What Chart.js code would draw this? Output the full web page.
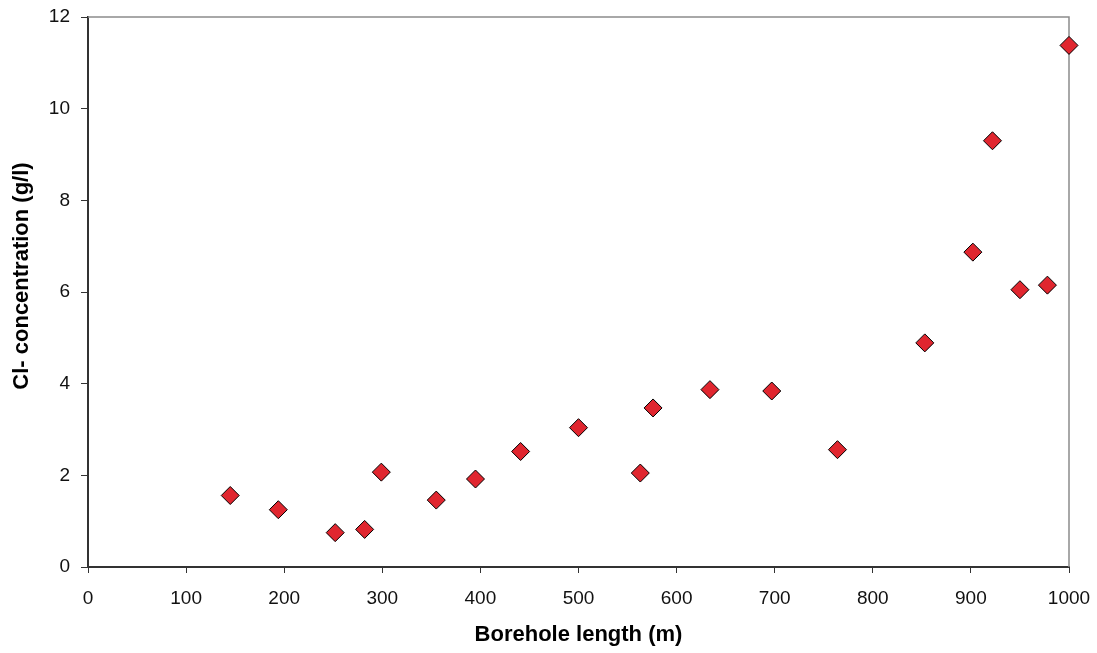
<!DOCTYPE html>
<html>
<head>
<meta charset="utf-8">
<script src="https://cdn.jsdelivr.net/npm/chart.js@4/dist/chart.umd.min.js"></script>
<style>
  html, body { margin: 0; padding: 0; background: #fff; }
  #wrap { width: 1097px; height: 653px; }
</style>
</head>
<body>
<div id="wrap"><canvas id="chart" width="1097" height="653"></canvas></div>
<script>
// borehole length (m) and Cl- concentration (g/l)
const boreholeLength = [145, 194, 252, 282, 299, 355, 395, 441, 500, 563, 576, 634, 697, 764, 853, 902, 922, 950, 978, 1000];
const clConcentration = [1.56, 1.25, 0.75, 0.82, 2.07, 1.46, 1.92, 2.52, 3.04, 2.05, 3.47, 3.87, 3.84, 2.56, 4.89, 6.87, 9.30, 6.05, 6.15, 11.38];

const xTitle = "Borehole length (m)";
const yTitle = "Cl- concentration (g/l)";

const points = boreholeLength.map((x, i) => ({ x: x, y: clConcentration[i] }));

const fontFamily = "'Liberation Sans', Arial, sans-serif";
const tickFont = { family: fontFamily, size: 19 };
const titleFont = { family: fontFamily, size: 22, weight: "bold" };

// grey frame on top and right of the plot area, like the original
const framePlugin = {
  id: "frame",
  beforeDatasetsDraw(chart) {
    const { ctx, chartArea } = chart;
    ctx.save();
    ctx.strokeStyle = "#8c8c8c";
    ctx.lineWidth = 1.5;
    ctx.beginPath();
    ctx.moveTo(chartArea.left, chartArea.top);
    ctx.lineTo(chartArea.right, chartArea.top);
    ctx.lineTo(chartArea.right, chartArea.bottom);
    ctx.stroke();
    ctx.restore();
  }
};

// y title sits a bit above the middle of the axis in the original
const yTitlePlugin = {
  id: "yTitle",
  afterDraw(chart) {
    const { ctx } = chart;
    ctx.save();
    ctx.translate(22, 276);
    ctx.rotate(-Math.PI / 2);
    ctx.font = "bold 22px " + fontFamily;
    ctx.fillStyle = "#000";
    ctx.textAlign = "center";
    ctx.textBaseline = "middle";
    ctx.fillText(yTitle, 0, 0);
    ctx.restore();
  }
};

new Chart(document.getElementById("chart"), {
  type: "scatter",
  data: {
    datasets: [{
      data: points,
      clip: false,
      pointStyle: "rectRot",
      pointRadius: 9,
      pointHoverRadius: 9,
      backgroundColor: "#e0262f",
      borderColor: "#000",
      borderWidth: 1
    }]
  },
  options: {
    responsive: false,
    animation: false,
    layout: { padding: { top: 17, right: 28, left: 0, bottom: 0 } },
    plugins: {
      legend: { display: false },
      tooltip: { enabled: false }
    },
    scales: {
      x: {
        type: "linear",
        min: 0,
        max: 1000,
        afterFit: (scale) => {
          scale.height = 86;
          scale.paddingLeft = 0;
          scale.paddingRight = 0;
        },
        ticks: { stepSize: 100, color: "#111", font: tickFont, padding: 14, maxRotation: 0,
                 callback: (v) => String(v) },
        grid: { drawOnChartArea: false, tickLength: 6, color: "#333", tickWidth: 1 },
        border: { color: "#333", width: 2 },
        title: { display: true, text: xTitle, color: "#000", font: titleFont, padding: { top: 0, bottom: 5 } }
      },
      y: {
        type: "linear",
        min: 0,
        max: 12,
        afterFit: (scale) => {
          scale.width = 88;
          scale.paddingTop = 0;
          scale.paddingBottom = 0;
        },
        ticks: { stepSize: 2, color: "#111", font: tickFont, padding: 11 },
        grid: { drawOnChartArea: false, tickLength: 7, color: "#333", tickWidth: 1 },
        border: { color: "#333", width: 2 },
        title: { display: false, text: yTitle }
      }
    }
  },
  plugins: [framePlugin, yTitlePlugin]
});
</script>
</body>
</html>
